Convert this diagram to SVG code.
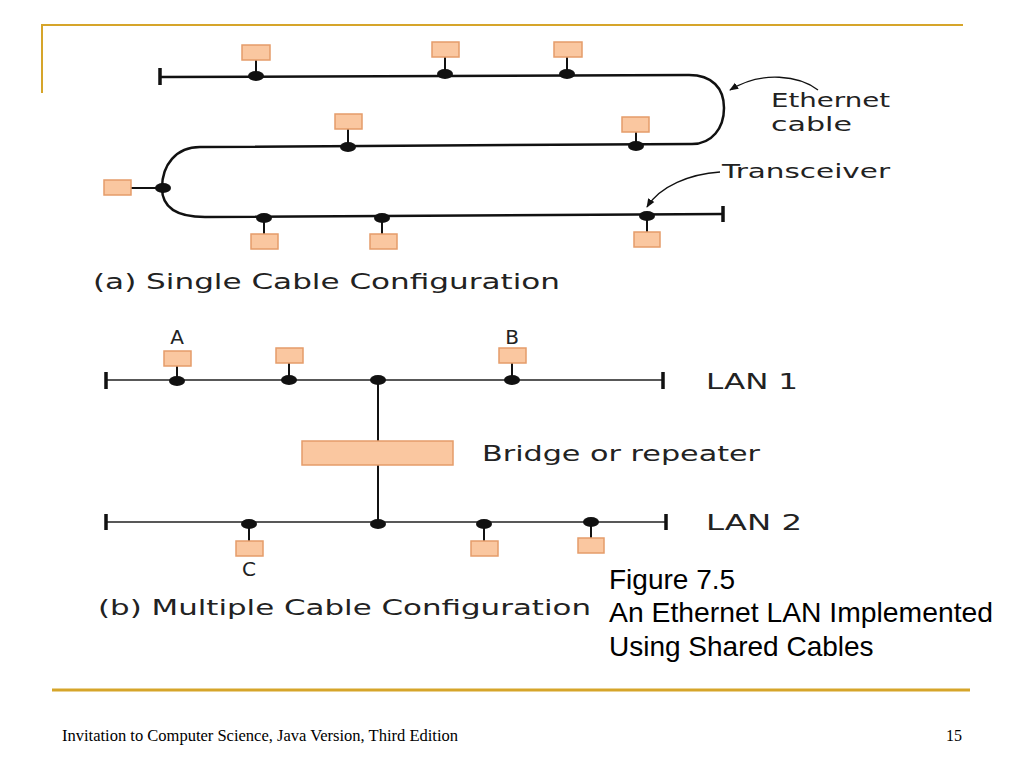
<svg xmlns="http://www.w3.org/2000/svg" width="1024" height="768" viewBox="0 0 1024 768">
<style>
.gold{stroke:#D6A52A;fill:none}
.cab{stroke:#111;fill:none;stroke-width:2.5}
.lan{stroke:#222;fill:none;stroke-width:1.6}
.stub{stroke:#111;stroke-width:2;fill:none}
.term{stroke:#111;stroke-width:3.5;fill:none}
.box{fill:#FAC7A0;stroke:#E59C6A;stroke-width:1.5}
.dot{fill:#111}
.lbl{font-family:"DejaVu Sans",sans-serif;fill:#222}
.cap{font-family:"Liberation Sans",Arial,sans-serif;fill:#000;font-size:28px}
.foot{font-family:"Liberation Serif","Times New Roman",serif;fill:#000;font-size:16px}
</style>
<defs>
<marker id="ah" viewBox="0 0 10 10" refX="9" refY="5" markerWidth="9" markerHeight="9" markerUnits="userSpaceOnUse" orient="auto">
<path d="M0,1 L10,5 L0,9 Z" fill="#111"/>
</marker>
</defs>
<rect width="1024" height="768" fill="#fff"/>
<g id="frame">
<path class="gold" stroke-width="2" d="M42,93 L42,25 L963,25"/>
<path class="gold" stroke-width="3" d="M52,690 L970,690"/>
</g>
<g id="connectors">
<path class="cab" d="M160,77 L689,75 C712,75 724,88 724,108 C724,128 712,144 692,144 L200,147 C176,147 162,165 162,188 C162,208 178,217 205,217 L723,214"/>
<path class="term" d="M160,68 L160,85 M723,206 L723,222"/>
<path class="stub" d="M256,60 L256,76 M445,57 L445,74 M567,57 L567,74 M348,129 L348,147 M636,132 L636,146 M131,188 L163,188 M264,218 L264,234 M382,218 L382,234 M647,216 L647,232"/>
<path stroke="#111" stroke-width="1.3" fill="none" marker-end="url(#ah)" d="M818,90 C800,76 762,70 730,90"/>
<path stroke="#111" stroke-width="1.3" fill="none" marker-end="url(#ah)" d="M720,172 C690,174 660,186 647,207"/>
<path class="lan" d="M106,380 L663,380 M106,522 L666,522"/>
<path class="term" d="M106,372 L106,389 M663,372 L663,389 M106,514 L106,530 M666,514 L666,530"/>
<path class="stub" d="M378,380 L378,441 M378,465 L378,522"/>
<path class="stub" d="M177,366 L177,381 M289,363 L289,380 M512,363 L512,380 M249,524 L249,541 M484,524 L484,541 M591,522 L591,538"/>
</g>
<g id="nodes-a">
<g id="a1"><rect class="box" x="242" y="45" width="28" height="15"/><ellipse class="dot" cx="256" cy="76" rx="8" ry="5"/></g>
<g id="a2"><rect class="box" x="432" y="42" width="27" height="15"/><ellipse class="dot" cx="445" cy="74" rx="8" ry="5"/></g>
<g id="a3"><rect class="box" x="554" y="42" width="28" height="15"/><ellipse class="dot" cx="567" cy="74" rx="8" ry="5"/></g>
<g id="a4"><rect class="box" x="335" y="114" width="27" height="15"/><ellipse class="dot" cx="348" cy="147" rx="8" ry="5"/></g>
<g id="a5"><rect class="box" x="622" y="117" width="27" height="15"/><ellipse class="dot" cx="636" cy="146" rx="8" ry="5"/></g>
<g id="a6"><rect class="box" x="104" y="180" width="27" height="15"/><ellipse class="dot" cx="163" cy="188" rx="8" ry="5"/></g>
<g id="a7"><rect class="box" x="251" y="234" width="27" height="15"/><ellipse class="dot" cx="264" cy="218" rx="8" ry="5"/></g>
<g id="a8"><rect class="box" x="370" y="234" width="27" height="15"/><ellipse class="dot" cx="382" cy="218" rx="8" ry="5"/></g>
<g id="a9"><rect class="box" x="634" y="232" width="26" height="15"/><ellipse class="dot" cx="647" cy="216" rx="8" ry="5"/></g>
</g>
<g id="labels-a">
<text class="lbl" x="771" y="107" font-size="20" textLength="119" lengthAdjust="spacingAndGlyphs">Ethernet</text>
<text class="lbl" x="771" y="131" font-size="20" textLength="81" lengthAdjust="spacingAndGlyphs">cable</text>
<text class="lbl" x="722" y="178" font-size="20" textLength="168" lengthAdjust="spacingAndGlyphs">Transceiver</text>
<text class="lbl" x="93" y="289" font-size="22" textLength="467" lengthAdjust="spacingAndGlyphs">(a)  Single Cable Configuration</text>
</g>
<g id="nodes-b">
<g id="A"><rect class="box" x="164" y="351" width="27" height="15"/><ellipse class="dot" cx="177" cy="381" rx="8" ry="5"/><text class="lbl" x="177" y="344" font-size="20" text-anchor="middle">A</text></g>
<g id="b2"><rect class="box" x="276" y="348" width="27" height="15"/><ellipse class="dot" cx="289" cy="380" rx="8" ry="5"/></g>
<g id="j1"><ellipse class="dot" cx="378" cy="380" rx="8" ry="5"/></g>
<g id="B"><rect class="box" x="499" y="348" width="27" height="15"/><ellipse class="dot" cx="512" cy="380" rx="8" ry="5"/><text class="lbl" x="512" y="344" font-size="20" text-anchor="middle">B</text></g>
<g id="bridge"><rect class="box" x="302" y="441" width="151" height="24"/></g>
<g id="j2"><ellipse class="dot" cx="378" cy="524" rx="8" ry="5"/></g>
<g id="C"><rect class="box" x="236" y="541" width="27" height="15"/><ellipse class="dot" cx="249" cy="524" rx="8" ry="5"/><text class="lbl" x="249" y="576" font-size="20" text-anchor="middle">C</text></g>
<g id="b5"><rect class="box" x="471" y="541" width="27" height="15"/><ellipse class="dot" cx="484" cy="524" rx="8" ry="5"/></g>
<g id="b6"><rect class="box" x="578" y="538" width="26" height="15"/><ellipse class="dot" cx="591" cy="522" rx="8" ry="5"/></g>
</g>
<g id="labels-b">
<text class="lbl" x="706" y="389" font-size="21" textLength="92" lengthAdjust="spacingAndGlyphs">LAN 1</text>
<text class="lbl" x="706" y="530" font-size="21" textLength="96" lengthAdjust="spacingAndGlyphs">LAN 2</text>
<text class="lbl" x="482" y="461" font-size="21" textLength="278" lengthAdjust="spacingAndGlyphs">Bridge or repeater</text>
<text class="lbl" x="98" y="615" font-size="21" textLength="493" lengthAdjust="spacingAndGlyphs">(b)  Multiple Cable Configuration</text>
</g>
<g id="caption">
<text class="cap" x="609" y="589">Figure 7.5</text>
<text class="cap" x="609" y="622" textLength="384" lengthAdjust="spacingAndGlyphs">An Ethernet LAN Implemented</text>
<text class="cap" x="609" y="656">Using Shared Cables</text>
</g>
<g id="footer">
<text class="foot" x="62" y="741" textLength="396" lengthAdjust="spacingAndGlyphs">Invitation to Computer Science, Java Version, Third Edition</text>
<text class="foot" x="946" y="741">15</text>
</g>
</svg>
